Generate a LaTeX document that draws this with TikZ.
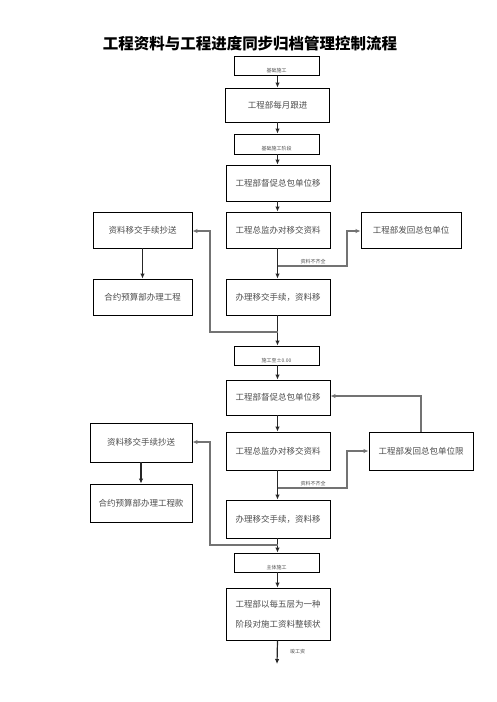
\documentclass[tikz,border=0pt]{standalone}
\usepackage{fontspec}
\newfontfamily\cjk{Noto Sans CJK SC}
\usetikzlibrary{arrows.meta}
\begin{document}
\begin{tikzpicture}[x=1pt,y=-1pt,
  box/.style={draw=black,line width=0.9pt,minimum width=104pt,minimum height=36pt,inner sep=0pt,font=\cjk\fontsize{8.5}{10}\selectfont,text=black!70},
  sbox/.style={draw=black,line width=0.9pt,minimum width=85pt,minimum height=19pt,inner sep=0pt},
  stext/.style={font=\cjk\fontsize{5}{6}\selectfont,text=black!70,inner sep=0pt},
  arr/.style={line width=1.2pt,draw=black!85,-{Latex[length=5pt,width=4.5pt]}},
  garr/.style={line width=1.6pt,draw=black!55,-{Latex[length=5pt,width=4.5pt]}},
  gline/.style={line width=1.6pt,draw=black!55}]
\useasboundingbox (0,0) rectangle (496,702);
\node[font=\cjk\bfseries\fontsize{15.5}{18}\selectfont] (title) at (250,44) {工程资料与工程进度同步归档管理控制流程};

% column 1
\node[sbox] (A) at (276.5,66) {};
\node[box,minimum height=34pt] (B) at (277.5,105) {工程部每月跟进};
\node[sbox,minimum height=20pt] (C) at (276.5,144) {};
\node[box] (D) at (278,183) {工程部督促总包单位移};
\node[box] (E) at (278,230) {工程总监办对移交资料};
\node[box,minimum width=99pt] (F) at (142.5,230) {资料移交手续抄送};
\node[box,minimum width=100pt] (G) at (411,230) {工程部发回总包单位};
\node[box] (H) at (278,297) {办理移交手续，资料移};
\node[box,minimum width=99pt] (I) at (142.5,297) {合约预算部办理工程};
\node[sbox] (J) at (276.5,355.5) {};
\node[box,minimum height=35pt] (K) at (278,397.5) {工程部督促总包单位移};
\node[box,minimum height=38pt] (L) at (278,451) {工程总监办对移交资料};
\node[box,minimum width=102pt,minimum height=39pt] (M) at (141,442.5) {资料移交手续抄送};
\node[box,minimum height=38pt] (N) at (421,451) {工程部发回总包单位限};
\node[box,minimum width=102pt,minimum height=38pt] (O) at (141,503) {合约预算部办理工程款};
\node[box,minimum height=38pt] (P) at (278,519) {办理移交手续，资料移};
\node[sbox] (Q) at (276.5,562.5) {};
\node[box,minimum height=52pt,align=center] (R) at (278,614) {工程部以每五层为一种\\[10pt]阶段对施工资料整顿状};
\coordinate (Rend) at (277,664);

% small box texts (clipped)
\foreach \b/\t in {A/基础施工,C/基础施工阶段,J/施工至±0.00,Q/主体施工}{
  \begin{scope}
    \clip (\b.south west) rectangle (\b.north east);
    \node[stext] at ([yshift=-5pt]\b.center) {\t};
  \end{scope}
}

% main arrows
\draw[arr] (A.south -| B.south) -- (B.north);
\draw[arr] (B.south) -- (C.north -| B.south);
\draw[arr] (C.south -| B.south) -- (D.north -| B.south);
\draw[arr] (D.south -| B.south) -- (E.north -| B.south);
\draw[arr] (E.south -| B.south) -- (H.north -| B.south);
\draw[arr] (H.south -| B.south) -- (J.north -| B.south);
\draw[arr] (J.south -| B.south) -- (K.north -| B.south);
\draw[arr] (K.south -| B.south) -- (L.north -| B.south);
\draw[arr] (L.south -| B.south) -- (P.north -| B.south);
\draw[arr] (P.south -| B.south) -- (Q.north -| B.south);
\draw[arr] (Q.south -| B.south) -- (R.north -| B.south);
\draw[arr] (R.south -| B.south) -- (Rend);
\node[stext,anchor=west] (endlbl) at (290,652) {竣工资};
\draw[arr] (F.south) -- (I.north);
\draw[arr] (M.south) -- (O.north);

% branches (upper)
\coordinate (b1) at (277.5,266);
\draw[garr] (b1) -- (347,266) -- (347,231) -- (G.west |- 0,231);
\node[stext] (l1) at (313,261.5) {资料不齐全};
\coordinate (c1) at (277.5,332);
\draw[garr] (c1) -- (210,332) -- (210,231) -- (F.east |- 0,231);

% branches (lower)
\coordinate (b2) at (277.5,488);
\draw[garr] (b2) -- (347,488) -- (347,451) -- (N.west |- 0,451);
\node[stext] (l2) at (313,483.5) {资料不齐全};
\draw[garr] (N.north) -- (421,396) -- (K.east |- 0,396);
\coordinate (c2) at (277.5,545);
\draw[garr] (c2) -- (210,545) -- (210,442) -- (M.east |- 0,442);
\end{tikzpicture}
\end{document}
